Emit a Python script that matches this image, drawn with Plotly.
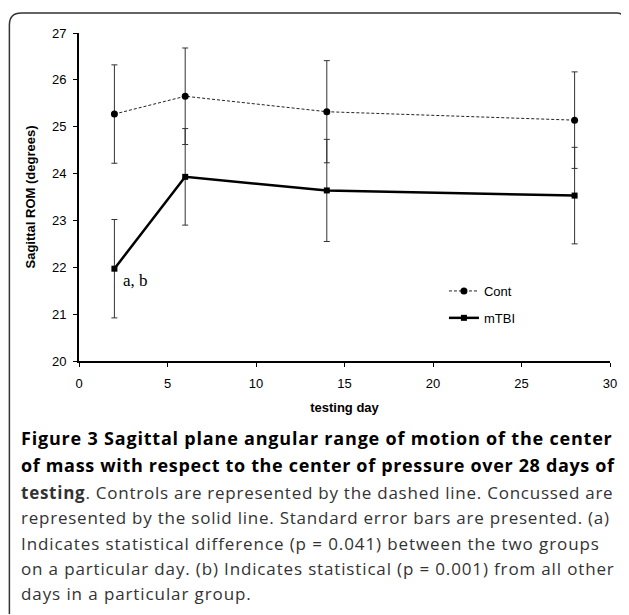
import plotly.graph_objects as go

# ---- data ----
days = [2, 6, 14, 28]
cont = [25.27, 25.65, 25.32, 25.14]
cont_err = [1.05, 1.03, 1.09, 1.03]
mtbi = [21.97, 23.93, 23.64, 23.53]
mtbi_err = [1.05, 1.03, 1.09, 1.03]
series_names = ["Cont", "mTBI"]
x_ticks = [0, 5, 10, 15, 20, 25, 30]
y_ticks = [20, 21, 22, 23, 24, 25, 26, 27]

caption_lines = [
    "<b>Figure 3 Sagittal plane angular range of motion of the center</b>",
    "<b>of mass with respect to the center of pressure over 28 days of</b>",
    "<b>testing</b>. Controls are represented by the dashed line. Concussed are",
    "represented by the solid line. Standard error bars are presented. (a)",
    "Indicates statistical difference (p = 0.041) between the two groups",
    "on a particular day. (b) Indicates statistical (p = 0.001) from all other",
    "days in a particular group.",
]

# page has an 8px body margin: work in reference-pixel coords and shift
OFF = 8
W, H = 629 - OFF, 615 - OFF
PL, PR, PT, PB = 79, 613, 33, 361          # plot area in reference pixels
L, R, T, B = PL - OFF, W - (PR - OFF), PT - OFF, H - (PB - OFF)
PW, PH = PR - PL, PB - PT


def px(x):
    return (x - PL) / PW


def py(y):
    return (PB - y) / PH


fig = go.Figure()
fig.add_trace(go.Scatter(
    x=days, y=cont, name=series_names[0], mode="lines+markers",
    line=dict(color="#222", width=1, dash="3px,2px"),
    marker=dict(symbol="circle", size=7, color="#000"),
    error_y=dict(type="data", array=cont_err, color="#333", thickness=1, width=3),
    legendgroup="a",
))
fig.add_trace(go.Scatter(
    x=days, y=mtbi, name=series_names[1], mode="lines+markers",
    line=dict(color="#000", width=2.5),
    marker=dict(symbol="square", size=6, color="#000"),
    error_y=dict(type="data", array=mtbi_err, color="#333", thickness=1, width=3),
    legendgroup="b",
))

fig.add_annotation(x=2.35, y=21.72, xref="x", yref="y", text="a, b",
                   showarrow=False, xanchor="left", yanchor="middle",
                   font=dict(family="Liberation Serif", size=17, color="#000"))

# caption
ys = [438, 465, 492, 517, 543, 568, 593]
spacing = [0.8, 0.66, 0.75, 0.77, 0.9, 0.85, 0.9]
for i, (line, yy, ls) in enumerate(zip(caption_lines, ys, spacing)):
    fig.add_annotation(x=px(19), y=py(yy), xref="paper", yref="paper",
                       text=f'<span style="letter-spacing:{ls}px">{line}</span>',
                       showarrow=False, xanchor="left", yanchor="middle",
                       font=dict(family="Open Sans", size=18 if i < 2 else 17,
                                 color="#000" if i < 2 else "#333"))

# frame
x0, y0, x1, y1, r = 9, 13, 628, 614, 12
path = (f"M {px(x0)} {py(y1)} L {px(x0)} {py(y0 + r)} "
        f"Q {px(x0)} {py(y0)} {px(x0 + r)} {py(y0)} "
        f"L {px(x1 - 8)} {py(y0)} Q {px(x1 - 2)} {py(y0)} {px(x1)} {py(y0 + 6)}")
fig.add_shape(type="path", path=path, xref="paper", yref="paper",
              line=dict(color="#333", width=1.5))

AX_FONT = dict(family="Liberation Sans", size=13, color="#000")
fig.update_layout(
    width=W, height=H,
    margin=dict(l=L, r=R, t=T, b=B),
    plot_bgcolor="white", paper_bgcolor="white",
    showlegend=True,
    legend=dict(x=px(446), y=py(276), xanchor="left", yanchor="top",
                font=AX_FONT,
                bgcolor="rgba(0,0,0,0)", tracegroupgap=7, traceorder="grouped",
                itemwidth=30),
    xaxis=dict(range=[0, 30], tickvals=x_ticks, showgrid=False, zeroline=False,
               showline=True, linecolor="#000", linewidth=1.5,
               ticks="outside", ticklen=4, tickcolor="#000",
               ticklabelstandoff=6,
               tickfont=AX_FONT,
               title=dict(text="<b>testing day</b>", standoff=13, font=AX_FONT)),
    yaxis=dict(range=[20, 27], tickvals=y_ticks, showgrid=False, zeroline=False,
               showline=True, linecolor="#000", linewidth=2,
               ticks="outside", ticklen=4, tickcolor="#000",
               ticklabelstandoff=4,
               tickfont=AX_FONT,
               title=dict(text="<b>Sagittal ROM (degrees)</b>", standoff=13,
                          font=AX_FONT)),
)

fig.write_html("out.html")
